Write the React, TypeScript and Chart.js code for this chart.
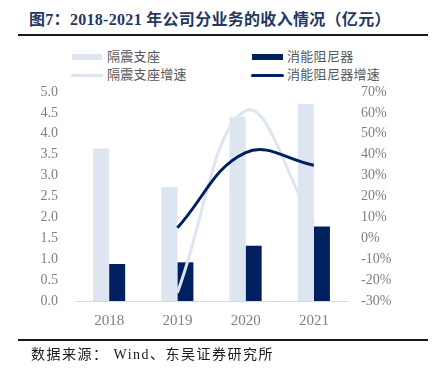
import React, { useEffect, useRef } from 'react';
import { Chart, registerables } from 'chart.js';
Chart.register(...registerables);

const categories = ['2018', '2019', '2020', '2021'];
const isolationRevenue = [3.65, 2.73, 4.41, 4.71];
const damperRevenue = [0.885, 0.925, 1.32, 1.78];
const isolationGrowth = [null, -26, 61, 7];
const damperGrowth = [null, 5, 41, 35];

const seriesNames = ['隔震支座', '消能阻尼器', '隔震支座增速', '消能阻尼器增速'];
const titleText = '图7：2018-2021 年公司分业务的收入情况（亿元）';
const sourceText = '数据来源： Wind、东吴证券研究所';

const LIGHT = '#dce5f0';
const DARK = '#002060';
const TICK = '#7f7f7f';
const SERIF = '"Liberation Serif", "Times New Roman", "Noto Sans CJK SC", serif';

export default function App() {
  const ref = useRef<HTMLCanvasElement | null>(null);

  useEffect(() => {
    if (!ref.current) return;
    const chart = new Chart(ref.current, {
      type: 'bar',
      data: {
        labels: categories,
        datasets: [
          {
            type: 'line',
            label: seriesNames[3],
            data: damperGrowth as any,
            yAxisID: 'y1',
            borderColor: DARK,
            backgroundColor: DARK,
            borderWidth: 3,
            pointRadius: 0,
            tension: 0.4,
            order: 0,
          },
          {
            type: 'line',
            label: seriesNames[2],
            data: isolationGrowth as any,
            yAxisID: 'y1',
            borderColor: LIGHT,
            backgroundColor: LIGHT,
            borderWidth: 3,
            pointRadius: 0,
            tension: 0.4,
            order: 1,
          },
          {
            label: seriesNames[0],
            data: isolationRevenue,
            yAxisID: 'y',
            backgroundColor: LIGHT,
            barPercentage: 1,
            categoryPercentage: 0.47,
            order: 2,
          },
          {
            label: seriesNames[1],
            data: damperRevenue,
            yAxisID: 'y',
            backgroundColor: DARK,
            barPercentage: 1,
            categoryPercentage: 0.47,
            order: 3,
          },
        ],
      },
      options: {
        responsive: false,
        animation: false,
        devicePixelRatio: 1,
        layout: { padding: { top: 92, bottom: 0, left: 0, right: 0 } },
        plugins: { legend: { display: false }, tooltip: { enabled: false }, title: { display: false } },
        scales: {
          x: {
            grid: { display: false, drawTicks: false },
            border: { display: true, color: '#d9d9d9', width: 1 },
            ticks: { color: TICK, font: { family: SERIF, size: 15 }, padding: 11 },
            afterFit: (s: any) => { s.height = 71; },
          },
          y: {
            position: 'left',
            min: 0,
            max: 5,
            grid: { display: false, drawTicks: false },
            border: { display: false },
            ticks: {
              stepSize: 0.5,
              color: TICK,
              font: { family: SERIF, size: 14 },
              padding: 17,
              callback: (v: any) => Number(v).toFixed(1),
            },
            afterFit: (s: any) => { s.width = 75; },
          },
          y1: {
            position: 'right',
            min: -30,
            max: 70,
            grid: { display: false, drawTicks: false },
            border: { display: false },
            ticks: {
              stepSize: 10,
              color: TICK,
              font: { family: SERIF, size: 14 },
              padding: 13,
              callback: (v: any) => `${v}%`,
            },
            afterFit: (s: any) => { s.width = 90; },
          },
        },
      },
    });
    return () => chart.destroy();
  }, []);

  const legendText: React.CSSProperties = {
    position: 'absolute',
    fontFamily: SERIF,
    fontSize: 13,
    color: '#595959',
    lineHeight: '16px',
    whiteSpace: 'nowrap',
    letterSpacing: 0.3,
  };

  return (
    <div style={{ position: 'fixed', left: 0, top: 0, width: 438, height: 372, background: '#fff', overflow: 'hidden' }}>
      <div style={{ position: 'absolute', left: 29, top: 10, fontFamily: SERIF, fontWeight: 'bold', fontSize: 16, color: '#1f3864', whiteSpace: 'nowrap', lineHeight: '20px', letterSpacing: 0.3 }}>
        {titleText}
      </div>
      <div style={{ position: 'absolute', left: 18, top: 34, width: 410, height: 2, background: '#1a1a1a' }} />

      <div style={{ position: 'absolute', left: 72, top: 54, width: 30, height: 6, background: LIGHT }} />
      <div style={{ ...legendText, left: 107, top: 49 }}>{seriesNames[0]}</div>
      <div style={{ position: 'absolute', left: 252, top: 54, width: 31, height: 6, background: DARK }} />
      <div style={{ ...legendText, left: 287, top: 49 }}>{seriesNames[1]}</div>
      <div style={{ position: 'absolute', left: 71, top: 74, width: 32, height: 3, borderRadius: 2, background: LIGHT }} />
      <div style={{ ...legendText, left: 107, top: 67 }}>{seriesNames[2]}</div>
      <div style={{ position: 'absolute', left: 251, top: 74, width: 33, height: 3, borderRadius: 2, background: DARK }} />
      <div style={{ ...legendText, left: 287, top: 67 }}>{seriesNames[3]}</div>

      <canvas ref={ref} width={438} height={372} style={{ position: 'absolute', left: 0, top: 0 }} />

      <div style={{ position: 'absolute', left: 18, top: 339, width: 410, height: 2, background: '#1a1a1a' }} />
      <div style={{ position: 'absolute', left: 31, top: 346, fontFamily: SERIF, fontSize: 14, color: '#1a1a1a', whiteSpace: 'nowrap', lineHeight: '18px', letterSpacing: 1.5 }}>
        {sourceText}
      </div>
    </div>
  );
}
